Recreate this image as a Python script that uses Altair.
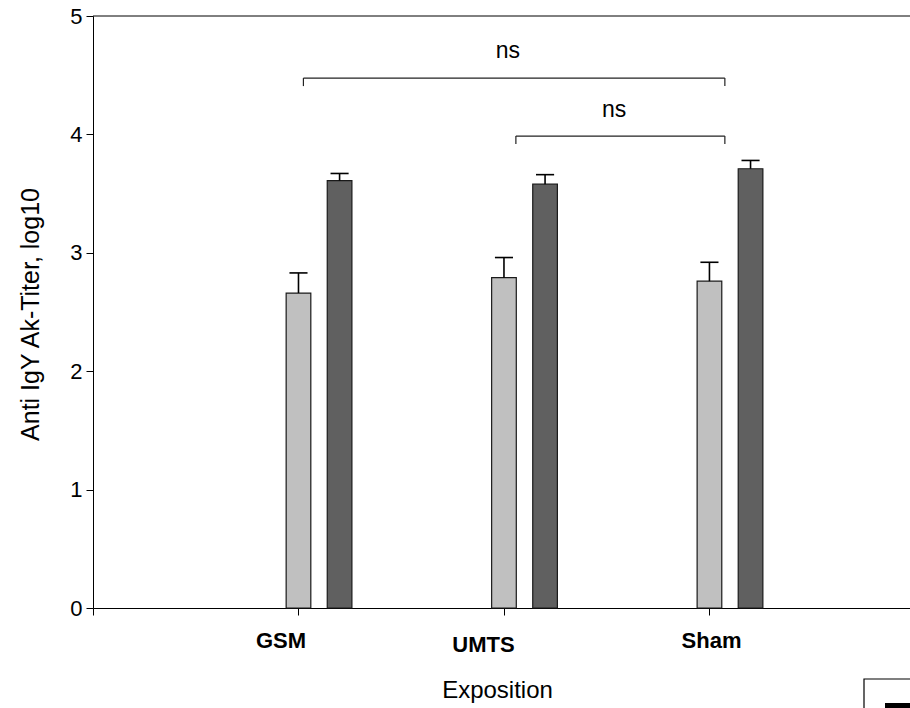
import altair as alt
import pandas as pd

# Antibody titres (log10) per exposure group, two measurement series
groups = ["GSM", "UMTS", "Sham"]
series = ["Serie 1", "Serie 2"]
light_mean = [2.66, 2.79, 2.76]
light_sem = [0.17, 0.17, 0.16]
dark_mean = [3.61, 3.58, 3.71]
dark_sem = [0.06, 0.08, 0.07]
y_ticks = [0, 1, 2, 3, 4, 5]
x_ticks = [0, 1, 2, 3, 4]

# significance annotations: (from, to, height) and their text
brackets = [(1.024, 3.075, 4.476), (2.058, 3.075, 3.986)]
bracket_text = ["ns", "ns"]

# layout constants
BAR_HALF = 0.06
DARK_SHIFT = 0.2
CAP_HALF = 0.044
BRACKET_DROP = 0.068
TEXT_SHIFT = [(-0.03, 0.228), (-0.03, 0.22)]
LABEL_SHIFT = [-0.085, -0.10, 0.01]
LABEL_Y = [632, 636, 632]

rows = []
for i, g in enumerate(groups):
    for s, m, e, shift in ((series[0], light_mean[i], light_sem[i], 0.0),
                           (series[1], dark_mean[i], dark_sem[i], DARK_SHIFT)):
        c = i + 1 + shift
        rows.append(dict(group=g, series=s, center=c, x0=c - BAR_HALF, x1=c + BAR_HALF,
                         mean=m, base=0.0, top=m + e, cap0=c - CAP_HALF, cap1=c + CAP_HALF))
bars_df = pd.DataFrame(rows)

br_rows = []
for (a, b, h), t, (dx, dy) in zip(brackets, bracket_text, TEXT_SHIFT):
    br_rows.append(dict(a=a, b=b, h=h, low=h - BRACKET_DROP, mid=(a + b) / 2 + dx, ty=h + dy, text=t))
br_df = pd.DataFrame(br_rows)

lab_df = pd.DataFrame(dict(group=groups,
                           pos=[i + 1 + LABEL_SHIFT[i] for i in range(len(groups))],
                           ypx=LABEL_Y))

FONT = "Liberation Sans"
xs = alt.Scale(domain=[0, 3.976], nice=False, zero=False)
ys = alt.Scale(domain=[0, 5], nice=False, zero=True)

x_axis = alt.Axis(values=x_ticks, labels=False, grid=False, tickSize=7, domainColor="black",
                  tickColor="black", title="Exposition", titleFont=FONT, titleFontSize=24,
                  titleFontWeight="normal", titleColor="black", titleX=404, titleY=89,
                  titleAlign="center", titleBaseline="alphabetic")
y_axis = alt.Axis(values=y_ticks, grid=False, tickSize=7, domainColor="black", tickColor="black",
                  labelFont=FONT, labelFontSize=22, labelColor="black", labelPadding=4,
                  title="Anti IgY Ak-Titer, log10", titleFont=FONT, titleFontSize=25,
                  titleFontWeight="normal", titleColor="black", titleAngle=270,
                  titleX=-63, titleY=298, titleAlign="center", titleBaseline="middle")

X = lambda f: alt.X(f, scale=xs, axis=x_axis)
Y = lambda f: alt.Y(f, scale=ys, axis=y_axis)

bars = alt.Chart(bars_df).mark_rect(stroke="#1a1a1a", strokeWidth=1.2).encode(
    x=X("x0:Q"), x2="x1:Q", y=Y("mean:Q"), y2="base:Q",
    color=alt.Color("series:N", scale=alt.Scale(domain=series, range=["#c0c0c0", "#606060"]),
                    legend=None),
)
err = alt.Chart(bars_df).mark_rule(color="black", strokeWidth=1.6).encode(
    x=X("center:Q"), y=Y("mean:Q"), y2="top:Q")
caps = alt.Chart(bars_df).mark_rule(color="black", strokeWidth=1.6).encode(
    x=X("cap0:Q"), x2="cap1:Q", y=Y("top:Q"))

frame_top = alt.Chart(pd.DataFrame({"v": [y_ticks[-1]]})).mark_rule(color="black").encode(
    y=Y("v:Q"))

br_h = alt.Chart(br_df).mark_rule(color="#222", strokeWidth=1.2).encode(
    x=X("a:Q"), x2="b:Q", y=Y("h:Q"))
br_l = alt.Chart(br_df).mark_rule(color="#222", strokeWidth=1.2).encode(
    x=X("a:Q"), y=Y("low:Q"), y2="h:Q")
br_r = alt.Chart(br_df).mark_rule(color="#222", strokeWidth=1.2).encode(
    x=X("b:Q"), y=Y("low:Q"), y2="h:Q")
br_t = alt.Chart(br_df).mark_text(font=FONT, fontSize=23, color="black", baseline="middle").encode(
    x=X("mid:Q"), y=Y("ty:Q"), text="text:N")

cat_labels = alt.Chart(lab_df).mark_text(font=FONT, fontSize=22, fontWeight="bold", color="black",
                                         baseline="alphabetic", align="center").encode(
    x=X("pos:Q"), y=alt.Y("ypx:Q", scale=None), text="group:N")

# corner of the legend box, partly outside the drawing
legend_box = alt.Chart(pd.DataFrame({"k": [0]})).mark_rect(fill="white", stroke="black",
                                                          strokeWidth=1.2).encode(
    x=alt.value(771), x2=alt.value(1000), y=alt.value(663), y2=alt.value(800))
legend_sym = alt.Chart(pd.DataFrame({"k": [0]})).mark_rect(fill="black").encode(
    x=alt.value(792), x2=alt.value(1000), y=alt.value(687), y2=alt.value(800))

chart = alt.layer(frame_top, bars, err, caps, br_h, br_l, br_r, br_t, cat_labels,
                  legend_box, legend_sym).properties(
    width=817, height=592,
    autosize=alt.AutoSizeParams(type="none"),
    padding={"left": 93, "top": 16, "right": 0, "bottom": 100},
    background="white",
).configure_view(stroke=None)

chart.save("out.html", embed_options={"renderer": "svg", "actions": False})
